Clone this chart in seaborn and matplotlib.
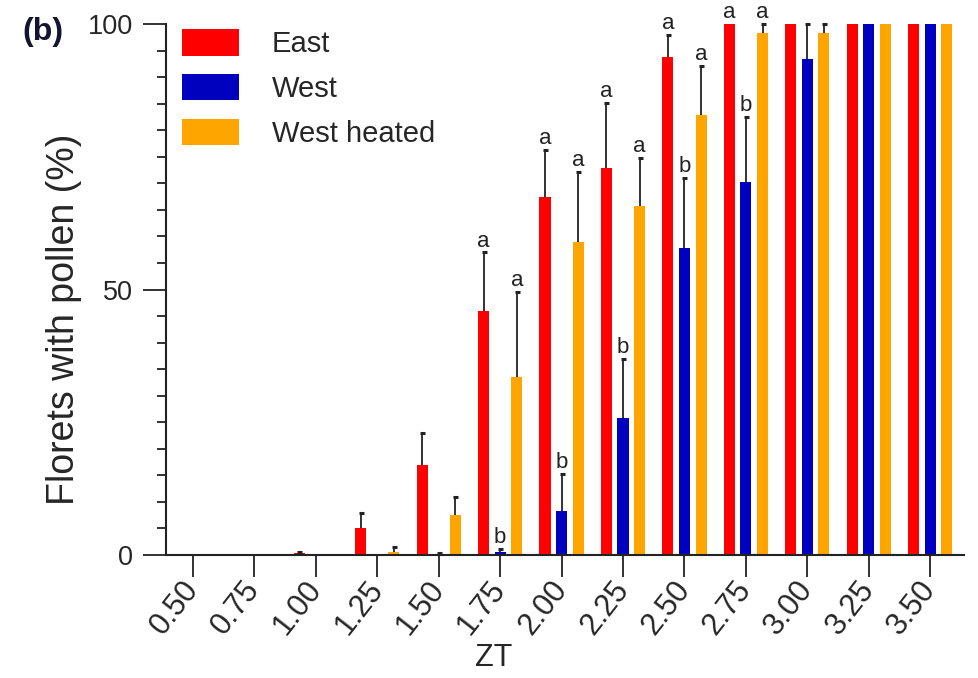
import numpy as np
import pandas as pd
import matplotlib
matplotlib.use("Agg")
import matplotlib.pyplot as plt
from matplotlib.ticker import MultipleLocator
import seaborn as sns

# ---- data ----
zt = ["0.50", "0.75", "1.00", "1.25", "1.50", "1.75", "2.00",
      "2.25", "2.50", "2.75", "3.00", "3.25", "3.50"]
groups = ["East", "West", "West heated"]
colors = ["#FF0000", "#0000BF", "#FFA500"]

east = [0, 0, 0.3, 5.0, 17.0, 46.0, 67.4, 72.9, 93.8, 100, 100, 100, 100]
east_err = [0, 0, 0.2, 3.0, 6.0, 11.0, 8.9, 12.2, 4.1, 0, 0, 0, 0]
west = [0, 0, 0, 0, 0, 0.5, 8.3, 25.8, 57.8, 70.2, 93.4, 100, 100]
west_err = [0, 0, 0, 0, 0.3, 0.6, 7.0, 11.2, 13.2, 12.3, 6.6, 0, 0]
heated = [0, 0, 0, 0.6, 7.6, 33.5, 59.0, 65.7, 82.9, 98.3, 98.3, 100, 100]
heated_err = [0, 0, 0, 0.9, 3.4, 16.0, 13.1, 9.1, 9.2, 1.7, 1.7, 0, 0]

east_letters = ["", "", "", "", "", "a", "a", "a", "a", "a", "", "", ""]
west_letters = ["", "", "", "", "", "b", "b", "b", "b", "b", "", "", ""]
heated_letters = ["", "", "", "", "", "a", "a", "a", "a", "a", "", "", ""]

values = [east, west, heated]
errors = [east_err, west_err, heated_err]
letters = [east_letters, west_letters, heated_letters]

df = pd.DataFrame({
    "ZT": zt * 3,
    "value": east + west + heated,
    "group": [g for g in groups for _ in zt],
})

sns.set_theme(style="ticks")
plt.rcParams["font.family"] = ["Liberation Sans", "DejaVu Sans"]

W, H = 979, 678
fig = plt.figure(figsize=(W / 100, H / 100), dpi=100)
ax = fig.add_axes([166 / W, 1 - 555 / H, (964 - 166) / W, (555 - 24) / H])

sns.barplot(data=df, x="ZT", y="value", hue="group", order=zt,
            hue_order=groups, palette=colors, saturation=1,
            width=0.81, gap=0.33, linewidth=0, errorbar=None, ax=ax)

# error bars (upper only) and significance letters
for cont, vals, errs, lets in zip(ax.containers, values, errors, letters):
    xs, hs, es = [], [], []
    for patch, v, e, l in zip(cont.patches, vals, errs, lets):
        xc = patch.get_x() + patch.get_width() / 2
        top = patch.get_height()
        if e > 0:
            xs.append(xc); hs.append(top); es.append(e)
        if l:
            ax.annotate(l, (xc, top + e), xytext=(0, 0.5),
                        textcoords="offset points", ha="center",
                        va="bottom", fontsize=16, color="#222222",
                        annotation_clip=False)
    if xs:
        eb = ax.errorbar(xs, hs, yerr=[np.zeros(len(es)), es], fmt="none",
                         ecolor="#222222", elinewidth=1.3, capsize=1.8,
                         capthick=2.2, clip_on=False, zorder=3)
        # hide the lower caps (they sit on the bar tops)
        for cl in eb[1]:
            yd = np.asarray(cl.get_ydata(), dtype=float)
            if np.allclose(yd, hs):
                cl.set_visible(False)

ax.set_xlim(-0.44, 12.55)
ax.set_ylim(0, 100)
ax.set_yticks([0, 50, 100])
ax.yaxis.set_minor_locator(MultipleLocator(5))
ax.set_xticks(range(len(zt)))
ax.set_xticklabels(zt, rotation=52, ha="right", va="center",
                   rotation_mode="anchor", fontsize=22)
ax.tick_params(axis="x", length=15.5, width=1.3, pad=5.5, color="#222222")
ax.tick_params(axis="y", which="major", length=16.5, width=1.3, pad=7,
               labelsize=19.5, color="#222222")
ax.tick_params(axis="y", which="minor", length=6.5, width=1.3,
               color="#222222")
sns.despine(ax=ax)
for s in ("left", "bottom"):
    ax.spines[s].set_linewidth(1.5)
    ax.spines[s].set_color("#222222")

ax.set_ylabel("Florets with pollen (%)", fontsize=27)
ax.yaxis.set_label_coords(-0.105, 0.443)
ax.set_xlabel("ZT", fontsize=22)
ax.xaxis.set_label_coords(0.411, -0.166)

handles, labels = ax.get_legend_handles_labels()
ax.legend(handles, labels, loc="upper left",
          bbox_to_anchor=(182 / W, 1 - 29 / H),
          bbox_transform=fig.transFigure, frameon=False, fontsize=21,
          borderpad=0, borderaxespad=0, handlelength=1.95,
          handleheight=1.03, handletextpad=1.13, labelspacing=0.53)

fig.text(22 / W, 1 - 32 / H, "(b)", fontsize=23, fontweight="bold",
         ha="left", va="center", color="#141432")

fig.savefig("out.png", dpi=100)
